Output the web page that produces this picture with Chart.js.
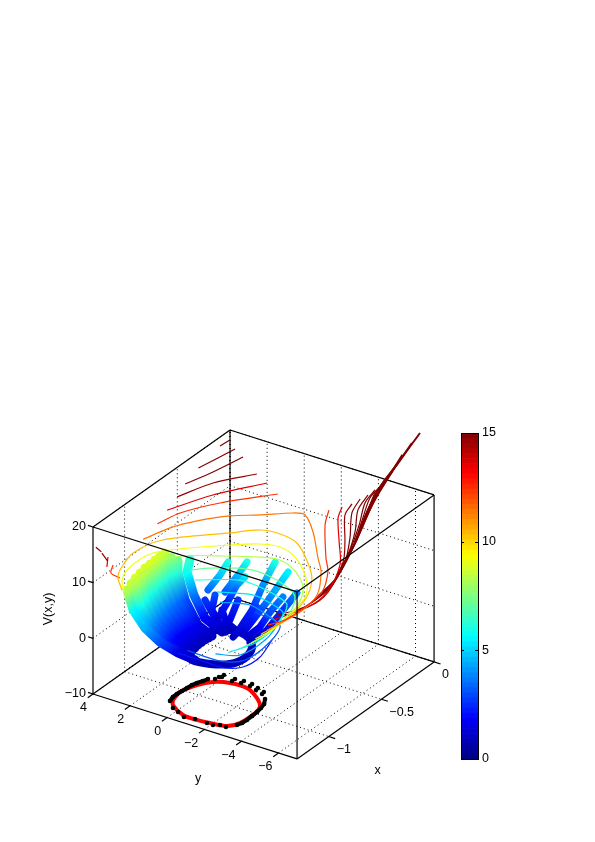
<!DOCTYPE html>
<html lang="en">

<head>
    <meta charset="UTF-8">
    <title>V(x,y)</title>
    <script src="https://cdn.jsdelivr.net/npm/chart.js"></script>
    <style>
        body { margin: 0; background: #fff; }
        #surface { position: absolute; left: 0; top: 0; }
        #colorbar { position: absolute; left: 455px; top: 420px; }
    </style>
</head>

<body>
    <canvas id="surface" width="595" height="842"></canvas>
    <canvas id="colorbar" width="70" height="355"></canvas>

    <script>
        // axis limits and ticks
        const xLimits = [-1.3, 0];
        const yLimits = [4, -7];
        const vLimits = [-10, 20];
        const xTicks = [-1, -0.5, 0];
        const yTicks = [4, 2, 0, -2, -4, -6];
        const vTicks = [-10, 0, 10, 20];
        const colorTicks = [0, 5, 10, 15];

        // level curves of V, one entry per visible arc
        const contourV = [18.4, 17.2, 16, 14.7, 13.6, 12.4, 12.4, 11.4, 10.3, 9.2, 8.2, 7.2, 6.2, 5.2, 4.2, 3.2, 2.2,
            13.6, 14.7, 16, 17, 18, 19, 20, 22, 25, 27, 30, 16, 14.7, 13.6, 12.4];
        const contourX = [
            [-0.095, -0.01],
            [-0.3, -0.165, -0.016],
            [-0.425, -0.232, -0.005],
            [-0.503, -0.267, -0.055],
            [-0.596, -0.322, -0.052],
            [-0.69, -0.523, -0.313, -0.06],
            [-0.058, -0.207, -0.51, -0.634, -0.836, -1.025, -1.204, -1.3],
            [-0.824, -0.639, -0.495, -0.352, -0.255, -0.139, -0.122, -0.256, -0.482, -0.602, -0.827, -1.034, -1.3],
            [-1.298, -1.198, -1.119, -0.923, -0.715, -0.453, -0.337, -0.315, -0.349, -0.501, -0.647, -0.852, -1.096, -1.3],
            [-1.254, -1.149, -1.005, -0.808, -0.653, -0.508, -0.41, -0.379, -0.434, -0.589, -0.746, -0.918, -1.143, -1.3],
            [-1.228, -1.037, -0.819, -0.699, -0.587, -0.479, -0.448, -0.512, -0.639, -0.811, -0.969, -1.185, -1.3],
            [-0.754, -0.677, -0.577, -0.573, -0.625, -0.695, -0.848, -1.092, -1.3],
            [-0.78, -0.648, -0.654, -0.696, -0.74, -0.9, -1.11, -1.3],
            [-0.774, -0.696, -0.72, -0.774, -0.928, -1.134, -1.3],
            [-0.807, -0.746, -0.789, -0.834, -1.026, -1.239, -1.3],
            [-1.3, -1.3, -1.218, -0.978, -0.792, -0.744],
            [-1.3, -1.3, -1.3, -1.237, -1.095, -0.902],
            [-0.053, -0.166, -0.385, -0.595, -0.884, -1.078, -1.3],
            [-0.052, -0.175, -0.425, -0.615, -0.937, -1.12, -1.3],
            [-0.049, -0.202, -0.439, -0.676, -0.961, -1.168, -1.258],
            [-0.041, -0.208, -0.421, -0.676, -0.979, -1.195],
            [-0.025, -0.175, -0.396, -0.685, -1.009, -1.223],
            [-0.034, -0.165, -0.371, -0.699, -1.026, -1.249],
            [-0.028, -0.156, -0.365, -0.72, -1.057, -1.276],
            [-0.014, -0.189, -0.436, -0.801, -1.138],
            [0.02, -0.202, -0.533, -0.934, -1.271],
            [0.054, -0.172, -0.413, -0.694, -1.028],
            [0.016, -0.246, -0.54, -0.791, -1.171],
            [-1.273, -1.3],
            [-1.242, -1.3],
            [-1.204, -1.3],
            [-1.201, -1.281, -1.3]
        ];
        const contourY = [
            [4, 3.95],
            [4, 3.82, 3.64],
            [4, 3.6, 3.27],
            [4, 3.4, 2.24],
            [4, 3.09, 1.71],
            [4, 3.72, 2.76, 1.08],
            [-1.66, -2.3, -4.07, -4.88, -5.71, -5.87, -5.8, -5.44],
            [4, 3.6, 2.96, 2, 0.94, -0.19, -0.74, -1.93, -3.48, -4.33, -5.39, -5.65, -5.38],
            [2.45, 3.23, 3.57, 3.98, 3.55, 1.43, 0.47, -0.49, -1.59, -3.05, -4.09, -4.88, -5.19, -5.05],
            [2.59, 3.29, 3.68, 3.56, 2.45, 1.12, 0.05, -0.85, -2.02, -3.44, -4.34, -4.72, -4.92, -4.75],
            [2.53, 3.17, 3.12, 2.62, 1.21, -0.34, -1.24, -2.46, -3.56, -4.27, -4.47, -4.62, -4.52],
            [1.88, 1.24, -0.19, -1.25, -2.63, -3.45, -4.05, -4.36, -4.2],
            [1.46, -0.22, -1.33, -2.65, -3.28, -3.81, -4.03, -3.8],
            [0.3, -1.19, -2.25, -3.26, -3.69, -3.79, -3.3],
            [-0.05, -1.32, -2.48, -3.27, -3.72, -3.57, -2.6],
            [-1.08, -2.9, -3.73, -3.71, -3.19, -1.58],
            [-0.54, -1.8, -3.04, -3.73, -3.84, -3.39],
            [-2.34, -2.77, -4.07, -5.31, -6.25, -6.33, -5.7],
            [-2.87, -3.19, -4.61, -5.59, -6.61, -6.67, -5.92],
            [-3.29, -3.72, -4.96, -6.04, -6.85, -6.94, -6.81],
            [-3.67, -4.08, -5.13, -6.15, -7.06, -7.21],
            [-3.96, -4.27, -5.21, -6.3, -7.29, -7.47],
            [-4.28, -4.48, -5.27, -6.55, -7.49, -7.73],
            [-4.46, -4.7, -5.45, -6.72, -7.72, -7.99],
            [-4.81, -5.16, -5.92, -7.24, -8.23],
            [-5.18, -5.77, -6.68, -8.05, -9.04],
            [-5.5, -6.03, -6.54, -7.38, -8.58],
            [-6.15, -6.73, -7.42, -8.15, -9.44],
            [4, 3.55],
            [3.85, 3.21],
            [3.74, 3.25],
            [3.48, 3.14, 2.55]
        ];

        // sampled trajectories on the surface, drawn as thick coloured tracks
        const trackX = [
            [-1.181, -1.203, -1.278, -1.292, -1.263, -1.252],
            [-1.126, -1.183, -1.248, -1.265, -1.247],
            [-1.071, -1.163, -1.217, -1.238, -1.231],
            [-1.01, -1.105, -1.168, -1.192, -1.202],
            [-0.95, -1.046, -1.119, -1.146, -1.173],
            [-0.898, -0.99, -1.06, -1.106, -1.136],
            [-0.847, -0.935, -1.002, -1.066, -1.099],
            [-0.792, -0.883, -0.95, -1.034, -1.066],
            [-0.737, -0.831, -0.898, -1.001, -1.033],
            [-0.72, -0.794, -0.864, -0.973, -1.004],
            [-0.7, -0.756, -0.829, -0.945, -0.975],
            [-0.614, -0.703, -0.788, -0.876, -0.908],
            [-0.396, -0.637, -0.773, -0.871],
            [-0.368, -0.512, -0.693, -0.888],
            [-0.45, -0.524, -0.648],
            [-0.506, -0.587, -0.69],
            [-0.564, -0.578, -0.692, -0.827],
            [-0.486, -0.612, -0.783, -0.922],
            [-0.683, -0.847, -0.927],
            [-0.554, -0.69, -0.797, -0.886],
            [-0.652, -0.8, -0.887],
            [-0.75, -0.83, -0.897],
            [-0.761, -0.819, -0.843],
            [-0.695, -0.791, -0.876]
        ];
        const trackY = [
            [2.85, 2.39, 1.32, 0.44, -0.37, -1.22],
            [2.94, 2.32, 1.3, 0.32, -0.5],
            [3.03, 2.25, 1.29, 0.2, -0.63],
            [3.11, 2.36, 1.35, 0.3, -0.62],
            [3.19, 2.48, 1.42, 0.4, -0.61],
            [3.21, 2.52, 1.53, 0.41, -0.56],
            [3.23, 2.57, 1.65, 0.42, -0.52],
            [3.27, 2.6, 1.68, 0.4, -0.52],
            [3.32, 2.62, 1.7, 0.37, -0.52],
            [3.07, 2.56, 1.7, 0.36, -0.55],
            [2.83, 2.51, 1.71, 0.36, -0.57],
            [2.67, 2.32, 1.47, 0.38, -0.73],
            [-1.38, -1.61, -1.63, -1.65],
            [-0.52, -0.69, -1.13, -1.42],
            [0.53, 0.59, 0.59],
            [1.23, 1.2, 1.27],
            [-0.01, 0.34, 0.23, 0],
            [-2.37, -2.34, -2.45, -2.32],
            [-1.33, -1.51, -1.43],
            [-2, -2.08, -2.14, -1.95],
            [-0.14, -0.54, -0.66],
            [1.09, 0.09, -0.88],
            [0.11, -0.44, -1.11],
            [0.86, 0.48, -0.55]
        ];
        const trackV = [
            [8.3, 5.5, 4.4, 3, 1.5, 1],
            [8.6, 5.8, 4, 2.4, 1.2],
            [8.8, 6, 3.8, 2, 1],
            [8.8, 6, 3.7, 1.9, 0.95],
            [8.8, 6, 3.6, 1.8, 0.9],
            [8.8, 6.1, 3.6, 1.8, 0.9],
            [8.8, 6.2, 3.6, 1.8, 0.9],
            [8.7, 6.2, 3.5, 1.75, 0.9],
            [8.5, 6.2, 3.4, 1.7, 0.9],
            [7.8, 6.2, 3.2, 1.6, 0.9],
            [7.2, 6.2, 3, 1.5, 0.9],
            [6.4, 5.7, 3.6, 1.8, 0.9],
            [5.5, 3.6, 2.2, 1.2],
            [6, 4, 2.4, 1.2],
            [6, 4.6, 3.2],
            [6, 4.8, 3.4],
            [5.4, 3.8, 2.2, 1.2],
            [4, 2.6, 1.4, 0.8],
            [3, 1.8, 1],
            [3.8, 3, 1.8, 1],
            [2.6, 1.4, 0.9],
            [2.6, 1.5, 0.9],
            [2, 1.2, 0.8],
            [3, 2, 1]
        ];
        const bulkTracks = 12;

        // dark band around the minimum
        const bandV = 0.8;
        const bandX = [-1.19, -1.25, -1.234, -1.175, -1.076, -0.962, -0.873, -0.855, -0.923, -1.038, -1.19];
        const bandY = [-0.28, -1.05, -1.93, -2.68, -2.92, -2.65, -1.93, -0.96, -0.27, -0.01, -0.28];

        // limit cycle and sample points on the floor of the box
        const cycleX = [-1.12, -1.026, -0.911, -0.836, -0.795, -0.792, -0.855, -0.929, -1.023, -1.136, -1.202, -1.224, -1.234, -1.229, -1.167, -1.12];
        const cycleY = [0.71, 0.87, 0.6, 0.17, -0.52, -1.41, -2.31, -2.89, -3.05, -2.99, -2.67, -1.88, -1.23, -0.45, 0.45, 0.71];
        const sampleX = [-1.138, -1.093, -1.053, -1.01, -0.968, -0.926, -0.892, -0.856, -0.823, -0.802, -0.772, -0.763, -0.739,
            -0.771, -0.743, -0.763, -0.736, -0.764, -0.74, -0.783, -0.76, -0.803, -0.779, -0.84, -0.889, -0.935, -0.984,
            -1.035, -1.087, -1.13, -1.163, -1.194, -1.216, -1.245, -1.231, -1.233, -1.234, -1.213, -1.214];
        const sampleY = [0.77, 0.87, 0.88, 0.85, 0.82, 0.79, 0.71, 0.59, 0.51, 0.25, 0.21, 0.1, 0.13,
            -0.49, -0.49, -0.93, -0.93, -1.42, -1.39, -1.85, -1.82, -2.29, -2.25, -2.66, -2.89, -2.98, -3.05,
            -3.07, -3.09, -3.07, -2.98, 0.29, -0.11, -0.59, -1.11, -1.76, -2.09, -2.35, -2.68];
        // stretches of the samples that are close enough to read as a solid run
        const sampleRuns = [[0, 9], [23, 31]];

        // view of the box on the page
        function project(x, y, v) {
            const u = 4 - y;
            const w = x + 1.3;
            return {
                x: 93 + 18.55 * u + 105.4 * w,
                y: 694 + 5.9 * u - 74.6 * w - 5.567 * (v + 10)
            };
        }

        function jet(v) {
            const t = Math.min(Math.max(v / 15, 0), 1);
            const ch = d => Math.round(255 * Math.min(Math.max(1.5 - Math.abs(4 * t - d), 0), 1));
            return `rgb(${ch(3)},${ch(2)},${ch(1)})`;
        }

        // colour along a track, running through the values at its vertices
        function trackGradient(context, points, values) {
            const { ctx, scales } = context.chart;
            const px = points.map(p => [scales.x.getPixelForValue(p.x), scales.y.getPixelForValue(p.y)]);
            if (!px.every(p => Number.isFinite(p[0]) && Number.isFinite(p[1]))) return jet(values[0]);
            const g = ctx.createLinearGradient(px[0][0], px[0][1], px[px.length - 1][0], px[px.length - 1][1]);
            let total = 0;
            const run = [0];
            for (let i = 1; i < px.length; i++) {
                total += Math.hypot(px[i][0] - px[i - 1][0], px[i][1] - px[i - 1][1]);
                run.push(total);
            }
            values.forEach((v, i) => g.addColorStop(run[i] / total, jet(v)));
            return g;
        }

        function edge(a, b, style) {
            return Object.assign({
                type: 'scatter',
                data: [project(...a), project(...b)],
                showLine: true,
                pointRadius: 0,
                borderColor: '#000',
                borderWidth: 1.2
            }, style);
        }

        const [x0, x1] = xLimits;
        const [y0, y1] = yLimits;
        const [v0, v1] = vLimits;
        const dotted = { borderDash: [1, 3], borderWidth: 1, order: 5 };
        const solidBack = { order: 4 };
        const front = { order: 0 };

        const datasets = [];

        // dotted grid on the floor and the two back walls
        xTicks.forEach(x => {
            datasets.push(edge([x, y0, v0], [x, y1, v0], dotted));
            datasets.push(edge([x, y0, v0], [x, y0, v1], dotted));
        });
        yTicks.forEach(y => {
            datasets.push(edge([x0, y, v0], [x1, y, v0], dotted));
            datasets.push(edge([x1, y, v0], [x1, y, v1], dotted));
        });
        vTicks.forEach(v => {
            datasets.push(edge([x0, y0, v], [x1, y0, v], dotted));
            datasets.push(edge([x1, y0, v], [x1, y1, v], dotted));
        });

        // back of the box
        datasets.push(edge([x0, y0, v1], [x1, y0, v1], solidBack));
        datasets.push(edge([x1, y0, v1], [x1, y1, v1], solidBack));
        datasets.push(edge([x1, y0, v0], [x1, y0, v1], solidBack));
        datasets.push(edge([x0, y0, v0], [x1, y0, v0], solidBack));
        datasets.push(edge([x1, y0, v0], [x1, y1, v0], solidBack));
        datasets.push(edge([x1, y1, v0], [x1, y1, v1], solidBack));
        datasets.push(edge([x0, y0, v0], [x0, y0, v1], solidBack));

        // front of the box, above the data
        datasets.push(edge([x0, y0, v1], [x0, y1, v1], front));
        datasets.push(edge([x0, y1, v1], [x1, y1, v1], front));
        datasets.push(edge([x0, y1, v0], [x0, y1, v1], front));
        datasets.push(edge([x0, y0, v0], [x0, y1, v0], front));
        datasets.push(edge([x0, y1, v0], [x1, y1, v0], front));

        // tick marks
        xTicks.forEach(x => datasets.push(edge([x, y1, v0], [x, y1 - 0.35, v0], front)));
        yTicks.forEach(y => datasets.push(edge([x0, y, v0], [x0 - 0.05, y, v0], front)));
        vTicks.forEach(v => datasets.push(edge([x0, y0, v], [x0, y0 + 0.27, v], front)));

        // contours above the tracks
        contourV.forEach((level, i) => {
            datasets.push({
                type: 'scatter',
                data: contourX[i].map((x, j) => project(x, contourY[i][j], level)),
                showLine: true,
                tension: 0.3,
                pointRadius: 0,
                borderColor: jet(level),
                borderWidth: level >= 22 ? 2 : 1.2,
                order: 1
            });
        });

        trackV.forEach((values, i) => {
            const points = values.map((v, j) => project(trackX[i][j], trackY[i][j], v));
            datasets.push({
                type: 'scatter',
                data: points,
                showLine: true,
                pointRadius: 0,
                borderWidth: i < bulkTracks ? 9 : 7,
                borderCapStyle: 'round',
                borderColor: context => trackGradient(context, points, values),
                order: 2
            });
        });

        datasets.push({
            type: 'scatter',
            data: bandX.map((x, i) => project(x, bandY[i], bandV)),
            showLine: true,
            tension: 0.3,
            pointRadius: 0,
            borderWidth: 8,
            borderColor: jet(bandV),
            order: 2
        });

        // floor: black samples over the red cycle
        datasets.push({
            type: 'scatter',
            data: cycleX.map((x, i) => project(x, cycleY[i], v0)),
            showLine: true,
            tension: 0.3,
            pointRadius: 0,
            borderWidth: 4,
            borderColor: '#f00',
            order: 3
        });
        datasets.push({
            type: 'scatter',
            data: sampleX.map((x, i) => project(x, sampleY[i], v0)),
            pointRadius: 2.3,
            pointBackgroundColor: '#000',
            pointBorderWidth: 0,
            order: 2.5
        });
        sampleRuns.forEach(([from, to]) => {
            datasets.push({
                type: 'scatter',
                data: sampleX.slice(from, to).map((x, i) => project(x, sampleY[from + i], v0)),
                showLine: true,
                pointRadius: 0,
                borderWidth: 4,
                borderColor: '#000',
                order: 2.5
            });
        });

        const axisLabels = {
            id: 'axisLabels',
            afterDatasetsDraw(chart) {
                const { ctx, scales } = chart;
                const put = (text, p, dx, dy) => {
                    ctx.fillText(text, scales.x.getPixelForValue(p.x + dx), scales.y.getPixelForValue(p.y + dy));
                };
                const fmt = n => String(n).replace('-', '\u2212');
                ctx.save();
                ctx.fillStyle = '#000';
                ctx.font = '12.5px "Liberation Sans"';
                ctx.textBaseline = 'middle';
                ctx.textAlign = 'right';
                vTicks.forEach(v => put(fmt(v), project(x0, y0, v), -7, 0));
                yTicks.forEach(y => put(fmt(y), project(x0, y, v0), -6, 14));
                ctx.textAlign = 'left';
                xTicks.forEach(x => put(fmt(x), project(x, y1, v0), 8, 13));
                ctx.textAlign = 'center';
                put('y', project(x0, -1.5, v0), 3, 52);
                put('x', project(-0.65, y1, v0), 12, 60);
                ctx.translate(49, 609);
                ctx.rotate(-Math.PI / 2);
                ctx.fillText('V(x,y)', 0, 0);
                ctx.restore();
            }
        };

        new Chart(document.getElementById('surface'), {
            type: 'scatter',
            data: { datasets },
            options: {
                responsive: false,
                animation: false,
                events: [],
                plugins: { legend: { display: false }, tooltip: { enabled: false } },
                layout: { padding: 0, autoPadding: false },
                scales: {
                    x: { type: 'linear', min: 0, max: 595, display: false },
                    y: { type: 'linear', min: 0, max: 842, reverse: true, display: false }
                }
            },
            plugins: [axisLabels]
        });

        // colorbar: 64 stacked steps of the colormap
        const colorMax = 15;
        const colorSteps = 64;
        const stepDatasets = [];
        for (let i = 0; i < colorSteps; i++) {
            stepDatasets.push({
                data: [colorMax / colorSteps],
                backgroundColor: jet((i + 0.5) * colorMax / colorSteps),
                borderWidth: 0,
                barPercentage: 1,
                categoryPercentage: 1
            });
        }

        const barFrame = {
            id: 'barFrame',
            afterDraw(chart) {
                const { ctx, chartArea: a, scales } = chart;
                ctx.save();
                ctx.strokeStyle = '#000';
                ctx.lineWidth = 1;
                ctx.strokeRect(a.left + 0.5, a.top + 0.5, a.right - a.left, a.bottom - a.top);
                colorTicks.forEach(t => {
                    const py = Math.round(scales.y.getPixelForValue(t)) + 0.5;
                    ctx.beginPath();
                    ctx.moveTo(a.left, py);
                    ctx.lineTo(a.left + 3, py);
                    ctx.moveTo(a.right - 3, py);
                    ctx.lineTo(a.right, py);
                    ctx.stroke();
                });
                ctx.restore();
            }
        };

        new Chart(document.getElementById('colorbar'), {
            type: 'bar',
            data: { labels: [''], datasets: stepDatasets },
            options: {
                responsive: false,
                animation: false,
                events: [],
                plugins: { legend: { display: false }, tooltip: { enabled: false } },
                layout: { padding: { left: 6, top: 13, bottom: 16, right: 0 }, autoPadding: false },
                scales: {
                    x: { stacked: true, display: false },
                    y: {
                        stacked: true,
                        position: 'right',
                        min: 0,
                        max: colorMax,
                        afterBuildTicks: s => { s.ticks = colorTicks.map(value => ({ value })); },
                        afterFit: s => { s.width = 47; },
                        grid: { display: false, tickLength: 0 },
                        border: { display: false },
                        ticks: {
                            color: '#000',
                            padding: 4,
                            font: { family: '"Liberation Sans"', size: 12.5 }
                        }
                    }
                }
            },
            plugins: [barFrame]
        });
    </script>
</body>

</html>
